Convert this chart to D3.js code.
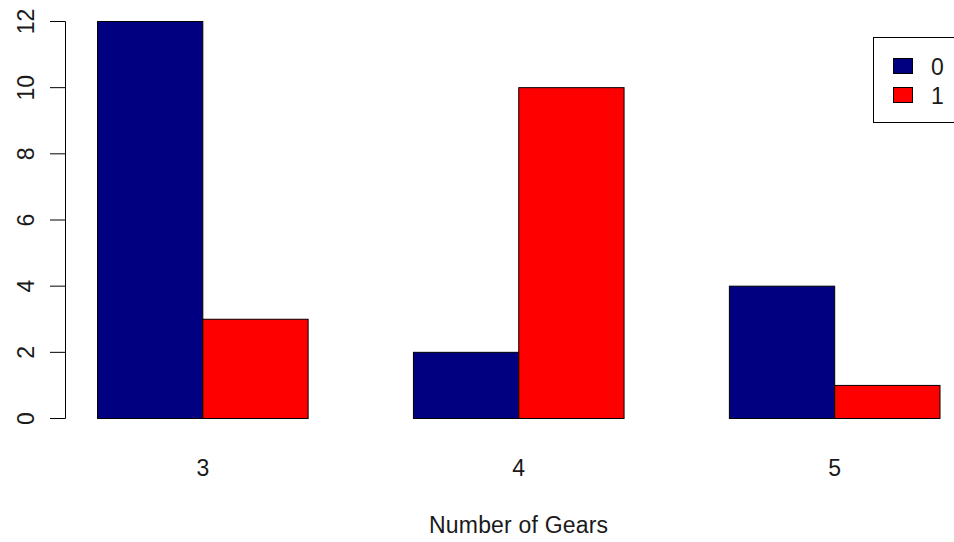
<!DOCTYPE html>
<html><head><meta charset="utf-8">
<script src="https://cdn.jsdelivr.net/npm/d3@7"></script>
<style>body{margin:0;background:#fff}text{font-family:"Liberation Sans",Arial,sans-serif;fill:#1a1a1a}</style>
</head><body>
<svg id="c" width="954" height="542"></svg>
<script>
const categories = ["3", "4", "5"];
const seriesNames = ["0", "1"];
const series0 = [12, 2, 4];
const series1 = [3, 10, 1];
const yTicks = [0, 2, 4, 6, 8, 10, 12];
const colors = ["#000080", "#FF0000"];
const xLabel = "Number of Gears";

const svg = d3.select("#c");
const fs = 23;
// bar units: group g, series s -> left edge at 1 + 3g + s
const x = d3.scaleLinear().domain([1, 9]).range([97.5, 940]);
const y = d3.scaleLinear().domain([0, 12]).range([418.5, 21.5]);

const vals = [series0, series1];
const bars = [];
categories.forEach((c, g) => vals.forEach((v, s) => bars.push({g, s, v: v[g]})));
svg.append("g").selectAll("rect").data(bars).join("rect")
  .attr("x", d => x(1 + 3 * d.g + d.s))
  .attr("width", d => x(2 + 3 * d.g + d.s) - x(1 + 3 * d.g + d.s))
  .attr("y", d => y(d.v))
  .attr("height", d => y(0) - y(d.v))
  .attr("fill", d => colors[d.s])
  .attr("stroke", "#000").attr("stroke-width", 1);

// y axis
const ya = svg.append("g");
ya.append("line").attr("x1", 65.5).attr("x2", 65.5).attr("y1", y(0)).attr("y2", y(12)).attr("stroke", "#000");
ya.selectAll("line.t").data(yTicks).join("line").attr("class", "t")
  .attr("x1", 50).attr("x2", 65.5).attr("y1", d => y(d)).attr("y2", d => y(d)).attr("stroke", "#000");
ya.selectAll("text").data(yTicks).join("text")
  .attr("transform", d => `translate(33.5,${y(d)}) rotate(-90)`)
  .attr("text-anchor", "middle").attr("font-size", fs).text(d => d);

// x labels
svg.append("g").selectAll("text").data(categories).join("text")
  .attr("x", (d, g) => x(2 + 3 * g)).attr("y", 476)
  .attr("text-anchor", "middle").attr("font-size", fs).text(d => d);
svg.append("text").attr("x", 518.5).attr("y", 533).attr("text-anchor", "middle")
  .attr("font-size", fs).attr("textLength", 179).text(xLabel);

// legend
const lg = svg.append("g");
lg.append("rect").attr("x", 873.5).attr("y", 37.5).attr("width", 120).attr("height", 85)
  .attr("fill", "#fff").attr("stroke", "#000");
seriesNames.forEach((n, i) => {
  lg.append("rect").attr("x", 893.5).attr("y", 58.5 + i * 29).attr("width", 19).attr("height", 15)
    .attr("fill", colors[i]).attr("stroke", "#000");
  lg.append("text").attr("x", 931).attr("y", 74.5 + i * 29).attr("font-size", fs).text(n);
});
</script>
</body></html>
